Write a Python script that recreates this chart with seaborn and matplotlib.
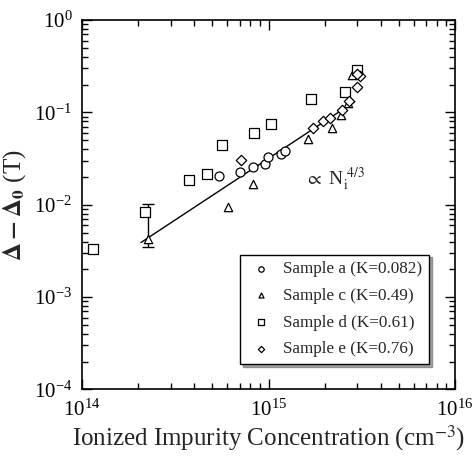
import numpy as np
import pandas as pd
import matplotlib
matplotlib.use("Agg")
import matplotlib.pyplot as plt
import seaborn as sns
from matplotlib.ticker import LogLocator, NullFormatter

# ---- data ----
a_x = [5.44e14, 7.06e14, 8.29e14, 9.6e14, 9.93e14, 1.16e15, 1.22e15]
a_y = [0.0205, 0.0228, 0.0255, 0.0279, 0.0332, 0.0355, 0.0379]

c_x = [2.25e14, 6.04e14, 8.28e14, 1.63e15, 2.20e15, 2.44e15, 2.68e15, 2.81e15]
c_y = [4.23e-3, 9.4e-3, 0.0168, 0.0519, 0.0673, 0.093, 0.125, 0.254]

d_x = [1.15e14, 2.18e14, 3.73e14, 4.7e14, 5.63e14, 8.41e14, 1.03e15, 1.70e15, 2.58e15, 2.98e15]
d_y = [3.32e-3, 8.4e-3, 0.0185, 0.0214, 0.0441, 0.0594, 0.0749, 0.139, 0.1675, 0.291]

e_x = [7.1e14, 1.73e15, 1.95e15, 2.14e15, 2.47e15, 2.71e15, 2.97e15, 3.09e15, 3.0e15]
e_y = [0.0303, 0.0673, 0.0817, 0.0863, 0.106, 0.134, 0.187, 0.248, 0.262]

# error bar on the low-concentration sample c point
err_x = [2.25e14]
err_y = [4.23e-3]
err_lo = [3.52e-3]
err_hi = [0.0102]

# N^(4/3) guide line endpoints
fit_x = [2.07e14, 2.9e15]
fit_y = [3.9e-3, 0.131]

labels = ["Sample a (K=0.082)", "Sample c (K=0.49)",
          "Sample d (K=0.61)", "Sample e (K=0.76)"]

# ---- style ----
sns.set_style("ticks")
plt.rcParams["font.family"] = ["Liberation Serif", "DejaVu Serif"]
plt.rcParams["mathtext.fontset"] = "stix"

fig = plt.figure(figsize=(4.77, 4.62), dpi=100)
ax = fig.add_axes([0.1719, 0.157, 0.782, 0.7996])

series = [(a_x, a_y, "o", 42), (c_x, c_y, "^", 36),
          (d_x, d_y, "s", 42), (e_x, e_y, "D", 28)]
for (xs, ys, m, s), lab in zip(series, labels):
    df = pd.DataFrame({"x": xs, "y": ys})
    sns.scatterplot(data=df, x="x", y="y", marker=m, s=s, ax=ax,
                    facecolor="white", edgecolor="black", linewidth=0.9,
                    label=lab, zorder=3)

sns.lineplot(x=fit_x, y=fit_y, ax=ax, color="black", linewidth=1.0, zorder=2)

yerr = np.array([[err_y[0] - err_lo[0]], [err_hi[0] - err_y[0]]])
ax.errorbar(err_x, err_y, yerr=yerr, fmt="none", ecolor="black",
            elinewidth=1.0, capsize=4, capthick=1.0, zorder=1)

ax.set_xscale("log")
ax.set_yscale("log")
ax.set_xlim(1e14, 1e16)
ax.set_ylim(1e-4, 1e0)

ax.xaxis.set_minor_locator(LogLocator(base=10, subs=np.arange(2, 10), numticks=20))
ax.yaxis.set_minor_locator(LogLocator(base=10, subs=np.arange(2, 10), numticks=20))
ax.xaxis.set_minor_formatter(NullFormatter())
ax.yaxis.set_minor_formatter(NullFormatter())
ax.tick_params(which="both", direction="in", top=True, right=True,
               colors="black", labelsize=15, width=1.0)
ax.tick_params(which="major", length=7, pad=7)
ax.tick_params(which="minor", length=4)
for sp in ax.spines.values():
    sp.set_linewidth(1.2)
    sp.set_color("black")

ax.set_xlabel("Ionized Impurity Concentration (cm$^{-3}$)", fontsize=18, labelpad=2)
ax.set_ylabel(r"$\mathbf{\Delta - \Delta_0}$ (T)", fontsize=18, labelpad=4)

ax.text(1.57e15, 0.0163, r"$\propto$ N$_{\rm i}^{\ 4/3}$", fontsize=14,
        ha="left", va="baseline")

leg = ax.legend(loc="lower right", bbox_to_anchor=(0.93, 0.069), fontsize=12.3,
                frameon=True, fancybox=False, shadow=True, markerscale=0.6,
                handletextpad=0.47, borderpad=0.4, labelspacing=0.62,
                handlelength=1.64, borderaxespad=0)
leg.get_frame().set_edgecolor("black")
leg.get_frame().set_linewidth(1.0)

fig.savefig("out.png", dpi=100)
